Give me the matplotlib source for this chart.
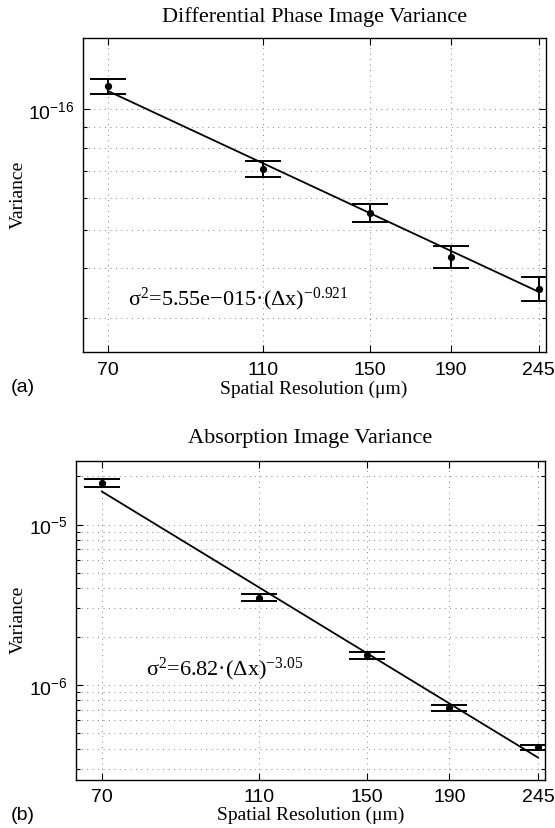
import numpy as np
import matplotlib
matplotlib.use("Agg")
import matplotlib.pyplot as plt
from matplotlib.ticker import (FixedLocator, FixedFormatter, LogLocator, NullLocator,
                               NullFormatter, LogFormatterSciNotation)

plt.rcParams['mathtext.default'] = 'regular'

# ---------------- data ----------------
resolution = np.array([70, 110, 150, 190, 245])
res_labels = ['70', '110', '150', '190', '245']

phase_var = np.array([1.14e-16, 7.08e-17, 5.50e-17, 4.28e-17, 3.55e-17])
phase_hi = np.array([1.19e-16, 7.40e-17, 5.78e-17, 4.54e-17, 3.80e-17])
phase_lo = np.array([1.09e-16, 6.75e-17, 5.21e-17, 4.02e-17, 3.31e-17])
phase_fit_a, phase_fit_b = 5.55e-15, -0.921

abs_var = np.array([1.82e-5, 3.48e-6, 1.53e-6, 7.16e-7, 4.08e-7])
abs_hi = np.array([1.925e-5, 3.67e-6, 1.605e-6, 7.47e-7, 4.22e-7])
abs_lo = np.array([1.71e-5, 3.33e-6, 1.46e-6, 6.83e-7, 3.92e-7])
abs_fit_a, abs_fit_b = 6.82, -3.05

W, H = 555, 829
fig = plt.figure(figsize=(W / 100, H / 100), dpi=100)

SERIF = 'Liberation Serif'
SANS = 'Liberation Sans'


def fx(px):
    return px / W


def fy(py):
    return 1 - py / H


def make_axes(rect, yvals, lo, hi, fa, fb, ylim, title, title_y, ann, ann_xy, tag, tag_y, xlabel_y, ylabel_y):
    left, top, right, bottom = rect
    ax = fig.add_axes([fx(left), fy(bottom), fx(right - left), (bottom - top) / H])
    ax.set_xscale('log')
    ax.set_yscale('log')
    ax.set_xlim(65, 250)
    ax.set_ylim(*ylim)
    ax.errorbar(resolution, yvals, yerr=[yvals - lo, hi - yvals], fmt='o', color='k',
                ms=4.2, capsize=13, elinewidth=1.4, capthick=1.4, zorder=3)
    ax.plot(resolution, fa * resolution.astype(float) ** fb, color='k', lw=1.3, zorder=2)

    ax.xaxis.set_major_locator(FixedLocator(resolution))
    ax.xaxis.set_major_formatter(FixedFormatter(res_labels))
    ax.xaxis.set_minor_locator(NullLocator())
    # only decades inside the visible range
    decs = 10.0 ** np.arange(np.ceil(np.log10(ylim[0])), np.floor(np.log10(ylim[1])) + 1)
    ax.yaxis.set_major_locator(FixedLocator(decs))
    ax.yaxis.set_major_formatter(LogFormatterSciNotation())
    ax.yaxis.set_minor_locator(LogLocator(base=10, subs=np.arange(2, 10)))
    ax.yaxis.set_minor_formatter(NullFormatter())

    gkw = dict(color='0.35', lw=0.6, linestyle=(0, (1, 5.5)))
    ax.grid(True, which='major', axis='both', **gkw)
    ax.grid(True, which='minor', axis='y', **gkw)

    ax.tick_params(which='both', direction='in', top=True, right=True, width=0.8)
    ax.tick_params(which='major', length=5, pad=6, labelsize=14)
    ax.tick_params(which='minor', length=3)
    for lab in ax.get_xticklabels() + ax.get_yticklabels():
        lab.set_fontfamily(SANS)
    for s in ax.spines.values():
        s.set_linewidth(1.0)

    cx = (left + right) / 2
    fig.text(fx(cx), fy(title_y), title, ha='center', va='center', fontsize=16, family=SERIF)
    fig.text(fx(cx), fy(xlabel_y), 'Spatial Resolution (μm)', ha='center', va='center',
             fontsize=14, family=SERIF)
    fig.text(fx(18), fy(ylabel_y), 'Variance', ha='center', va='center', rotation=90,
             fontsize=14, family=SERIF)
    fig.text(fx(ann_xy[0]), fy(ann_xy[1]), ann, ha='left', va='baseline', fontsize=16, family=SERIF)
    fig.text(fx(23), fy(tag_y), tag, ha='center', va='center', fontsize=14, family=SANS)
    return ax


make_axes((82.7, 39, 545.5, 353.3), phase_var, phase_lo, phase_hi, phase_fit_a, phase_fit_b,
          (2.47e-17, 1.505e-16), 'Differential Phase Image Variance', 17,
          'σ$^2$=5.55e−015·(Δx)$^{−0.921}$', (128.5, 305), '(a)', 388, 389, 195)

make_axes((76, 462.3, 545, 781), abs_var, abs_lo, abs_hi, abs_fit_a, abs_fit_b,
          (2.55e-7, 2.48e-5), 'Absorption Image Variance', 439,
          'σ$^2$=6.82·(Δx)$^{−3.05}$', (146.5, 675), '(b)', 816, 815, 620)

fig.savefig('out.png', dpi=100)
